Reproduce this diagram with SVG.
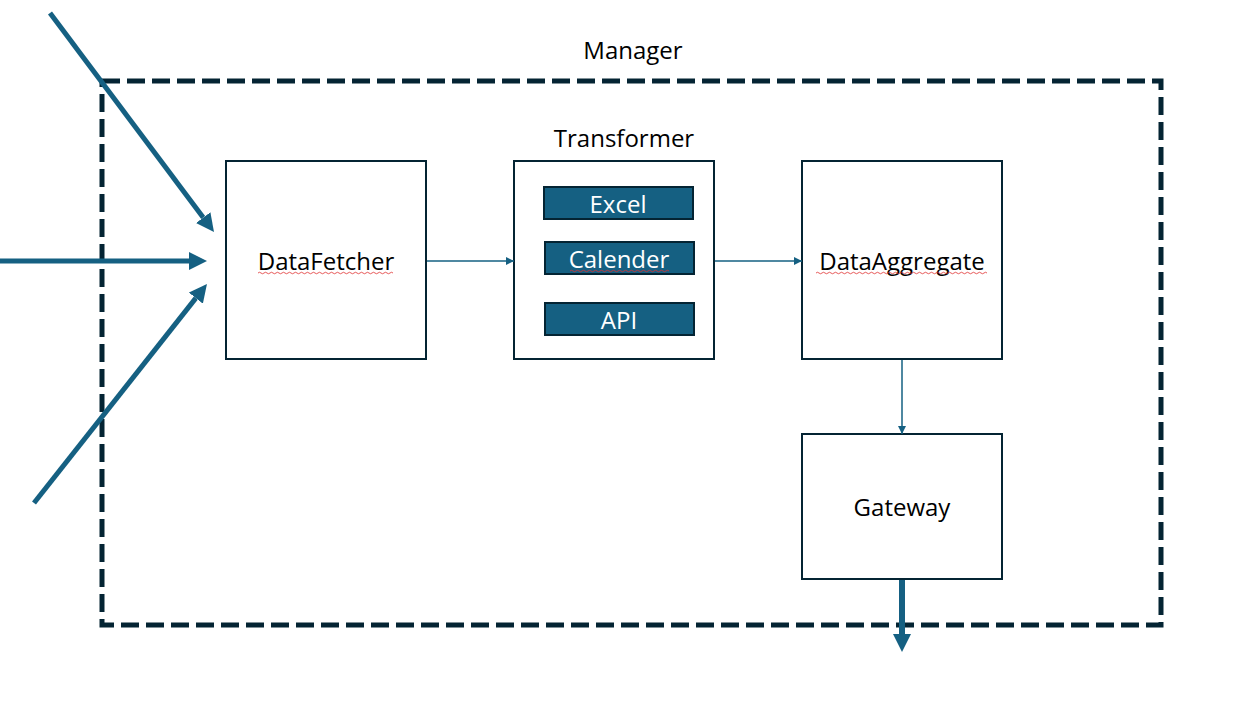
<svg xmlns="http://www.w3.org/2000/svg" width="1242" height="721" viewBox="0 0 1242 721">
<defs>
<style>
.box{fill:#ffffff;stroke:#042433;stroke-width:2}
.sub{fill:#156082;stroke:#042433;stroke-width:2}
.lbl{font-family:"Open Sans","Noto Sans","DejaVu Sans",sans-serif;font-size:24px;fill:#000000;text-anchor:middle}
.wlbl{font-family:"Open Sans","Noto Sans","DejaVu Sans",sans-serif;font-size:24px;fill:#ffffff;text-anchor:middle}
.thin{stroke:#156082;stroke-width:1.5;fill:none}
.thick{stroke:#156082;stroke-width:5;fill:none}
.sq{stroke:#e03030;stroke-width:0.8;fill:none}
</style>
<marker id="ah" viewBox="0 0 10 10" refX="10" refY="5" markerWidth="8" markerHeight="8" markerUnits="userSpaceOnUse" orient="auto">
<path d="M0,0 L10,5 L0,10 Z" fill="#156082"/>
</marker>
<marker id="ahb" viewBox="0 0 10 10" refX="0" refY="5" markerWidth="18" markerHeight="18" markerUnits="userSpaceOnUse" orient="auto">
<path d="M0,0 L10,5 L0,10 Z" fill="#156082"/>
</marker>
</defs>
<rect width="1242" height="721" fill="#ffffff"/>

<g id="manager">
<rect x="102" y="81" width="1059" height="544" fill="none" stroke="#042433" stroke-width="5" stroke-dasharray="18 7"/>
<text class="lbl" x="633" y="59">Manager</text>
</g>

<g id="datafetcher">
<rect class="box" x="226" y="161" width="200" height="198"/>
<text class="lbl" x="326" y="270">DataFetcher</text>
<path class="sq" d="M258,273 q1.5,-1.5 3,0 t3,0 t3,0 t3,0 t3,0 t3,0 t3,0 t3,0 t3,0 t3,0 t3,0 t3,0 t3,0 t3,0 t3,0 t3,0 t3,0 t3,0 t3,0 t3,0 t3,0 t3,0 t3,0 t3,0 t3,0 t3,0 t3,0 t3,0 t3,0 t3,0 t3,0 t3,0 t3,0 t3,0 t3,0 t3,0 t3,0 t3,0 t3,0 t3,0 t3,0 t3,0 t3,0 t3,0 t3,0"/>
</g>

<g id="transformer">
<rect class="box" x="514" y="161" width="200" height="198"/>
<text class="lbl" x="624" y="147">Transformer</text>
</g>

<g id="excel">
<rect class="sub" x="544" y="187" width="149" height="32"/>
<text class="wlbl" x="618" y="213">Excel</text>
</g>

<g id="calender">
<rect class="sub" x="545" y="242" width="149" height="32"/>
<text class="wlbl" x="619" y="268">Calender</text>
<path class="sq" d="M570,271 q1.5,-1.5 3,0 t3,0 t3,0 t3,0 t3,0 t3,0 t3,0 t3,0 t3,0 t3,0 t3,0 t3,0 t3,0 t3,0 t3,0 t3,0 t3,0 t3,0 t3,0 t3,0 t3,0 t3,0 t3,0 t3,0 t3,0 t3,0 t3,0 t3,0 t3,0 t3,0 t3,0 t3,0 t3,0"/>
</g>

<g id="api">
<rect class="sub" x="545" y="303" width="149" height="32"/>
<text class="wlbl" x="619" y="329">API</text>
</g>

<g id="dataaggregate">
<rect class="box" x="802" y="161" width="200" height="198"/>
<text class="lbl" x="902" y="270">DataAggregate</text>
<path class="sq" d="M816,273 q1.5,-1.5 3,0 t3,0 t3,0 t3,0 t3,0 t3,0 t3,0 t3,0 t3,0 t3,0 t3,0 t3,0 t3,0 t3,0 t3,0 t3,0 t3,0 t3,0 t3,0 t3,0 t3,0 t3,0 t3,0 t3,0 t3,0 t3,0 t3,0 t3,0 t3,0 t3,0 t3,0 t3,0 t3,0 t3,0 t3,0 t3,0 t3,0 t3,0 t3,0 t3,0 t3,0 t3,0 t3,0 t3,0 t3,0 t3,0 t3,0 t3,0 t3,0 t3,0 t3,0 t3,0 t3,0 t3,0 t3,0 t3,0 t3,0"/>
</g>

<g id="gateway">
<rect class="box" x="802" y="434" width="200" height="145"/>
<text class="lbl" x="902" y="516">Gateway</text>
</g>

<g id="connectors">
<line class="thin" x1="427" y1="261" x2="514" y2="261" marker-end="url(#ah)"/>
<line class="thin" x1="715" y1="261" x2="802" y2="261" marker-end="url(#ah)"/>
<line class="thin" x1="902" y1="360" x2="902" y2="434" marker-end="url(#ah)"/>
<line class="thick" x1="50" y1="13" x2="203.2" y2="217.6" marker-end="url(#ahb)"/>
<line class="thick" x1="0" y1="261" x2="189" y2="261" marker-end="url(#ahb)"/>
<line class="thick" x1="34" y1="503" x2="195.8" y2="298.1" marker-end="url(#ahb)"/>
<line x1="902" y1="580" x2="902" y2="634" stroke="#156082" stroke-width="6" marker-end="url(#ahb)"/>
</g>
</svg>
